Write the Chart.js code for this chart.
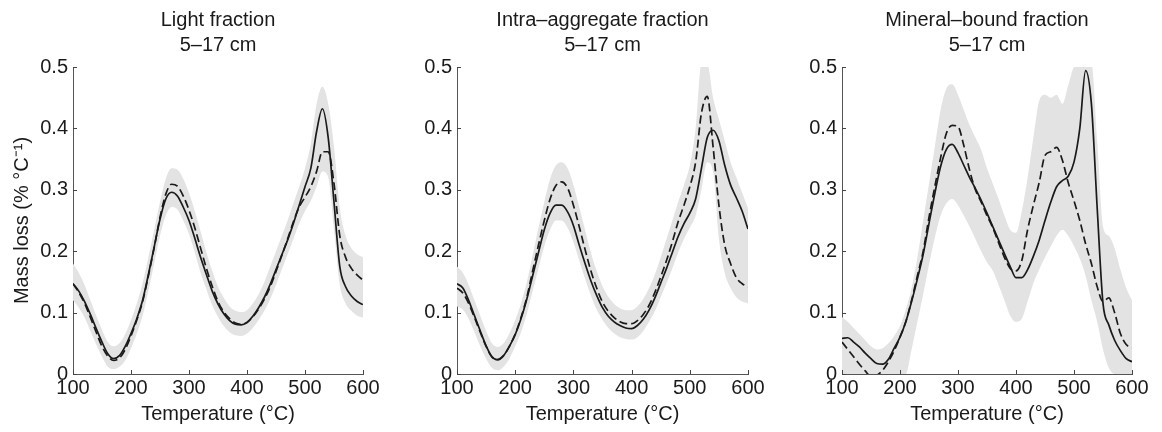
<!DOCTYPE html>
<html lang="en">
<head>
    <meta charset="UTF-8">
    <title>Mass loss, 5–17 cm</title>
    <script src="https://cdn.jsdelivr.net/npm/chart.js"></script>
    <style>
        body {
            margin: 0;
            background: #fff;
            font-family: 'Liberation Sans', Arial, sans-serif;
        }
        .wrap {
            position: relative;
            width: 1162px;
            height: 432px;
        }
        .panel {
            position: absolute;
            top: 0;
            height: 432px;
        }
    </style>
</head>
<body>
    <div class="wrap">
        <div class="panel" style="left:0px;width:383px"><canvas id="lightChart"></canvas></div>
        <div class="panel" style="left:384px;width:384px"><canvas id="intraChart"></canvas></div>
        <div class="panel" style="left:769px;width:383px"><canvas id="mineralChart"></canvas></div>
    </div>

    <script>
        // temperature grid (°C)
        const temps = [100, 110, 120, 130, 140, 150, 160, 170, 180, 190,
                       200, 210, 220, 230, 240, 250, 260, 270, 280, 290,
                       300, 310, 320, 330, 340, 350, 360, 370, 380, 390,
                       400, 410, 420, 430, 440, 450, 460, 470, 480, 490,
                       500, 510, 520, 530, 540, 550, 560, 570, 580, 590, 600];
        const xTicks = [100, 200, 300, 400, 500, 600];
        const yTicks = [0, 0.1, 0.2, 0.3, 0.4, 0.5];

        // Light fraction
        const lightSolid = [0.147, 0.135, 0.118, 0.097, 0.074, 0.052, 0.033, 0.025, 0.030, 0.045,
                            0.066, 0.090, 0.120, 0.162, 0.207, 0.252, 0.285, 0.296, 0.290, 0.272,
                            0.250, 0.221, 0.190, 0.162, 0.135, 0.114, 0.098, 0.087, 0.081, 0.080,
                            0.084, 0.094, 0.108, 0.125, 0.146, 0.170, 0.194, 0.218, 0.245, 0.275,
                            0.305, 0.335, 0.395, 0.432, 0.385, 0.280, 0.175, 0.142, 0.127, 0.118, 0.113];
        const lightDash = [0.147, 0.133, 0.115, 0.092, 0.068, 0.045, 0.029, 0.022, 0.026, 0.040,
                           0.062, 0.088, 0.118, 0.160, 0.206, 0.255, 0.293, 0.309, 0.306, 0.290,
                           0.267, 0.238, 0.205, 0.172, 0.143, 0.118, 0.101, 0.090, 0.083, 0.081,
                           0.084, 0.093, 0.106, 0.122, 0.142, 0.167, 0.193, 0.220, 0.248, 0.272,
                           0.288, 0.305, 0.330, 0.362, 0.362, 0.310, 0.225, 0.190, 0.172, 0.161, 0.153];
        const lightHi = [0.180, 0.165, 0.145, 0.120, 0.095, 0.072, 0.052, 0.045, 0.050, 0.065,
                         0.088, 0.115, 0.148, 0.190, 0.235, 0.280, 0.318, 0.335, 0.333, 0.318,
                         0.295, 0.265, 0.232, 0.198, 0.168, 0.142, 0.124, 0.110, 0.103, 0.101,
                         0.104, 0.115, 0.130, 0.150, 0.175, 0.200, 0.225, 0.250, 0.278, 0.305,
                         0.335, 0.375, 0.440, 0.468, 0.440, 0.370, 0.270, 0.225, 0.205, 0.195, 0.190];
        const lightLo = [0.120, 0.108, 0.092, 0.070, 0.048, 0.028, 0.012, 0.008, 0.012, 0.022,
                         0.042, 0.066, 0.095, 0.135, 0.180, 0.225, 0.258, 0.272, 0.268, 0.250,
                         0.228, 0.198, 0.165, 0.138, 0.112, 0.093, 0.078, 0.068, 0.063, 0.062,
                         0.066, 0.075, 0.088, 0.103, 0.122, 0.145, 0.170, 0.195, 0.220, 0.245,
                         0.265, 0.282, 0.305, 0.330, 0.320, 0.235, 0.145, 0.115, 0.103, 0.095, 0.092];

        // Intra-aggregate fraction
        const intraSolid = [0.147, 0.140, 0.120, 0.095, 0.070, 0.046, 0.028, 0.023, 0.030, 0.045,
                            0.064, 0.090, 0.122, 0.160, 0.198, 0.235, 0.262, 0.275, 0.275, 0.264,
                            0.242, 0.210, 0.180, 0.152, 0.128, 0.108, 0.094, 0.085, 0.079, 0.075,
                            0.074, 0.079, 0.089, 0.104, 0.124, 0.148, 0.172, 0.198, 0.224, 0.245,
                            0.262, 0.285, 0.335, 0.385, 0.397, 0.380, 0.340, 0.308, 0.287, 0.265, 0.236];
        const intraDash = [0.140, 0.132, 0.115, 0.092, 0.068, 0.045, 0.028, 0.024, 0.030, 0.045,
                           0.065, 0.092, 0.125, 0.168, 0.210, 0.250, 0.285, 0.307, 0.313, 0.303,
                           0.275, 0.240, 0.203, 0.168, 0.140, 0.117, 0.102, 0.092, 0.085, 0.082,
                           0.082, 0.087, 0.097, 0.112, 0.133, 0.158, 0.185, 0.215, 0.248, 0.275,
                           0.305, 0.345, 0.425, 0.452, 0.370, 0.275, 0.210, 0.180, 0.157, 0.147, 0.142];
        const intraHi = [0.175, 0.165, 0.145, 0.120, 0.095, 0.070, 0.050, 0.044, 0.050, 0.066,
                         0.088, 0.115, 0.150, 0.193, 0.238, 0.280, 0.318, 0.340, 0.345, 0.335,
                         0.308, 0.272, 0.235, 0.198, 0.168, 0.143, 0.126, 0.114, 0.107, 0.104,
                         0.104, 0.110, 0.122, 0.140, 0.162, 0.190, 0.220, 0.250, 0.280, 0.308,
                         0.340, 0.400, 0.505, 0.505, 0.450, 0.415, 0.380, 0.345, 0.320, 0.295, 0.270];
        const intraLo = [0.110, 0.105, 0.090, 0.068, 0.045, 0.025, 0.010, 0.006, 0.012, 0.025,
                         0.045, 0.068, 0.098, 0.135, 0.172, 0.208, 0.235, 0.250, 0.250, 0.238,
                         0.215, 0.185, 0.155, 0.128, 0.105, 0.088, 0.075, 0.066, 0.060, 0.057,
                         0.056, 0.060, 0.070, 0.085, 0.102, 0.125, 0.148, 0.172, 0.198, 0.220,
                         0.238, 0.258, 0.300, 0.345, 0.330, 0.220, 0.165, 0.140, 0.125, 0.118, 0.115];

        // Mineral-bound fraction
        const mineralSolid = [0.058, 0.059, 0.052, 0.044, 0.034, 0.025, 0.017, 0.016, 0.024, 0.042,
                              0.060, 0.085, 0.118, 0.155, 0.195, 0.245, 0.294, 0.338, 0.366, 0.374,
                              0.360, 0.340, 0.320, 0.302, 0.283, 0.262, 0.240, 0.218, 0.196, 0.175,
                              0.157, 0.157, 0.170, 0.192, 0.218, 0.250, 0.280, 0.305, 0.315, 0.322,
                              0.345, 0.400, 0.494, 0.440, 0.270, 0.115, 0.080, 0.055, 0.038, 0.025, 0.020];
        const mineralDash = [0.052, 0.040, 0.028, 0.016, 0.005, -0.004, -0.002, 0.006, 0.020, 0.038,
                             0.060, 0.085, 0.120, 0.160, 0.200, 0.255, 0.305, 0.352, 0.392, 0.405,
                             0.403, 0.372, 0.332, 0.300, 0.280, 0.258, 0.238, 0.214, 0.190, 0.172,
                             0.168, 0.185, 0.235, 0.275, 0.312, 0.356, 0.362, 0.369, 0.348, 0.312,
                             0.282, 0.250, 0.212, 0.180, 0.142, 0.118, 0.124, 0.100, 0.066, 0.048, 0.043];
        const mineralHi = [0.093, 0.085, 0.075, 0.065, 0.055, 0.045, 0.040, 0.042, 0.050, 0.062,
                           0.078, 0.105, 0.140, 0.190, 0.250, 0.310, 0.370, 0.430, 0.465, 0.472,
                           0.455, 0.430, 0.405, 0.385, 0.365, 0.335, 0.310, 0.285, 0.258, 0.235,
                           0.230, 0.265, 0.320, 0.385, 0.445, 0.455, 0.450, 0.455, 0.440, 0.470,
                           0.500, 0.505, 0.505, 0.505, 0.380, 0.240, 0.225, 0.205, 0.170, 0.140, 0.120];
        const mineralLo = [0, 0, 0, 0, 0, 0, 0, 0, 0, 0,
                           0, 0, 0.040, 0.085, 0.130, 0.178, 0.222, 0.258, 0.278, 0.285,
                           0.275, 0.258, 0.240, 0.220, 0.200, 0.182, 0.168, 0.145, 0.120, 0.095,
                           0.085, 0.090, 0.118, 0.148, 0.170, 0.190, 0.208, 0.225, 0.235, 0.225,
                           0.208, 0.188, 0.160, 0.120, 0.085, 0.040, 0.010, 0, 0, 0, 0];

        const FONT = "'Liberation Sans', Arial, Helvetica, sans-serif";
        const INK = '#1a1a1a';
        const BAND = '#e3e3e3';

        function pts(values) {
            return temps.map((t, i) => ({ x: t, y: values[i] }));
        }

        // small ticks pointing into the plot, like the original figure
        const innerTicks = {
            id: 'innerTicks',
            afterDraw(chart) {
                const { ctx, chartArea, scales } = chart;
                ctx.save();
                ctx.strokeStyle = '#444';
                ctx.lineWidth = 1;
                ctx.beginPath();
                xTicks.forEach(v => {
                    const px = Math.round(scales.x.getPixelForValue(v)) + 0.5;
                    ctx.moveTo(px, chartArea.bottom);
                    ctx.lineTo(px, chartArea.bottom - 4);
                });
                yTicks.forEach(v => {
                    const py = Math.round(scales.y.getPixelForValue(v)) + 0.5;
                    ctx.moveTo(chartArea.left, py);
                    ctx.lineTo(chartArea.left + 4, py);
                });
                ctx.stroke();
                ctx.restore();
            }
        };

        function makePanel(id, titleLines, solid, dash, hi, lo, showYTitle) {
            const ctx = document.getElementById(id).getContext('2d');
            new Chart(ctx, {
                type: 'line',
                data: {
                    datasets: [
                        {
                            data: pts(solid),
                            borderColor: INK,
                            borderWidth: 1.7,
                            order: 0
                        },
                        {
                            data: pts(dash),
                            borderColor: INK,
                            borderWidth: 1.7,
                            borderDash: [8, 4],
                            order: 1
                        },
                        {
                            data: pts(hi),
                            borderWidth: 0,
                            borderColor: 'rgba(0,0,0,0)',
                            backgroundColor: BAND,
                            fill: '+1',
                            order: 5
                        },
                        {
                            data: pts(lo),
                            borderWidth: 0,
                            borderColor: 'rgba(0,0,0,0)',
                            fill: false,
                            order: 6
                        }
                    ]
                },
                options: {
                    responsive: true,
                    maintainAspectRatio: false,
                    animation: false,
                    elements: {
                        point: { radius: 0 },
                        line: { cubicInterpolationMode: 'monotone' }
                    },
                    layout: { padding: { left: 0, right: 20, top: 0, bottom: 0 } },
                    scales: {
                        x: {
                            type: 'linear',
                            min: 100,
                            max: 600,
                            afterFit: s => { s.height = 58; },
                            afterBuildTicks: s => { s.ticks = xTicks.map(v => ({ value: v })); },
                            grid: { drawOnChartArea: false, drawTicks: false },
                            border: { display: true, color: '#555', width: 1 },
                            ticks: {
                                padding: 2,
                                color: INK,
                                font: { family: FONT, size: 20 }
                            },
                            title: {
                                display: true,
                                text: 'Temperature (°C)',
                                color: INK,
                                font: { family: FONT, size: 20 },
                                padding: { top: 0, bottom: 6 }
                            }
                        },
                        y: {
                            min: 0,
                            max: 0.5,
                            afterFit: s => { s.width = 73; },
                            afterBuildTicks: s => { s.ticks = yTicks.map(v => ({ value: v })); },
                            grid: { drawOnChartArea: false, drawTicks: false },
                            border: { display: true, color: '#555', width: 1 },
                            ticks: {
                                padding: 5,
                                color: INK,
                                font: { family: FONT, size: 20 },
                                callback: v => v === 0 ? '0' : v.toFixed(1)
                            },
                            title: {
                                display: showYTitle,
                                text: 'Mass loss (% °C⁻¹)',
                                color: INK,
                                font: { family: FONT, size: 20 },
                                padding: { top: 10, bottom: 0 }
                            }
                        }
                    },
                    plugins: {
                        legend: { display: false },
                        tooltip: { enabled: false },
                        title: {
                            display: true,
                            text: titleLines,
                            fullSize: false,
                            color: INK,
                            font: { family: FONT, size: 20, weight: 'normal', lineHeight: 1.25 },
                            padding: { top: 8, bottom: 9 }
                        }
                    }
                },
                plugins: [innerTicks]
            });
        }

        makePanel('lightChart', ['Light fraction', '5–17 cm'],
                  lightSolid, lightDash, lightHi, lightLo, true);
        makePanel('intraChart', ['Intra–aggregate fraction', '5–17 cm'],
                  intraSolid, intraDash, intraHi, intraLo, false);
        makePanel('mineralChart', ['Mineral–bound fraction', '5–17 cm'],
                  mineralSolid, mineralDash, mineralHi, mineralLo, false);
    </script>
</body>
</html>
